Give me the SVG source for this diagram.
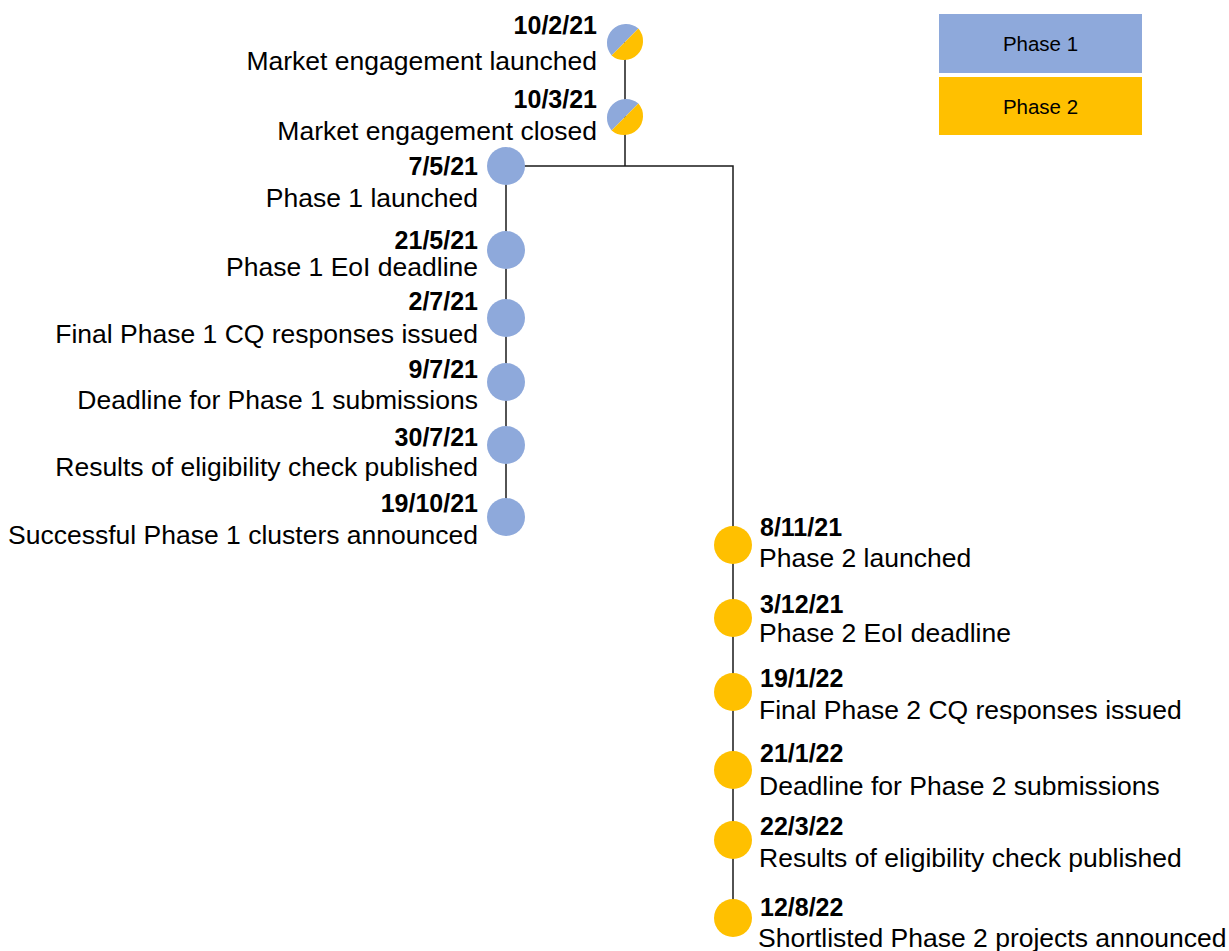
<svg xmlns="http://www.w3.org/2000/svg" width="1229" height="951" viewBox="0 0 1229 951">
<style>
.bg{fill:#ffffff}
.ln{stroke:#1a1a1a;stroke-width:1.5;fill:none}
.p1{fill:#8EA9DB}
.p2{fill:#FFC000}
.d{font-family:"Liberation Sans",Arial,sans-serif;font-weight:bold;font-size:25px;fill:#000}
.l{font-family:"Liberation Sans",Arial,sans-serif;font-size:26.5px;fill:#000}
.e{text-anchor:end}
.lg{font-family:"Liberation Sans",Arial,sans-serif;font-size:20.5px;fill:#000;text-anchor:middle}
</style>
<rect class="bg" x="0" y="0" width="1229" height="951"/>
<g id="connectors">
<line class="ln" x1="625" y1="42" x2="625" y2="166"/>
<polyline class="ln" points="506,166 733,166 733,918"/>
<line class="ln" x1="506" y1="166" x2="506" y2="517"/>
</g>
<g id="legend">
<g id="legend-phase1"><rect class="p1" x="939" y="14" width="203" height="59"/><text class="lg" x="1040.5" y="51">Phase 1</text></g>
<g id="legend-phase2"><rect class="p2" x="939" y="77" width="203" height="58"/><text class="lg" x="1040.5" y="114">Phase 2</text></g>
</g>
<g id="n-market-launched">
<path class="p1" d="M611.6,55.4 A19,19 0 0 1 638.4,28.6 Z"/>
<path class="p2" d="M638.4,28.6 A19,19 0 0 1 611.6,55.4 Z"/>
<text class="d e" x="597" y="34">10/2/21</text>
<text class="l e" x="597" y="70">Market engagement launched</text>
</g>
<g id="n-market-closed">
<path class="p1" d="M611.6,130.4 A19,19 0 0 1 638.4,103.6 Z"/>
<path class="p2" d="M638.4,103.6 A19,19 0 0 1 611.6,130.4 Z"/>
<text class="d e" x="597" y="108">10/3/21</text>
<text class="l e" x="597" y="140">Market engagement closed</text>
</g>
<g id="n-p1-launched"><circle class="p1" cx="506" cy="166" r="19"/><text class="d e" x="478" y="175">7/5/21</text><text class="l e" x="478" y="207">Phase 1 launched</text></g>
<g id="n-p1-eoi"><circle class="p1" cx="506" cy="250" r="19"/><text class="d e" x="478" y="249">21/5/21</text><text class="l e" x="478" y="276">Phase 1 EoI deadline</text></g>
<g id="n-p1-cq"><circle class="p1" cx="506" cy="318" r="19"/><text class="d e" x="478" y="310">2/7/21</text><text class="l e" x="478" y="343">Final Phase 1 CQ responses issued</text></g>
<g id="n-p1-deadline"><circle class="p1" cx="506" cy="382" r="19"/><text class="d e" x="478" y="378">9/7/21</text><text class="l e" x="478" y="409">Deadline for Phase 1 submissions</text></g>
<g id="n-p1-results"><circle class="p1" cx="506" cy="445" r="19"/><text class="d e" x="478" y="446">30/7/21</text><text class="l e" x="478" y="476">Results of eligibility check published</text></g>
<g id="n-p1-success"><circle class="p1" cx="506" cy="517" r="19"/><text class="d e" x="478" y="512">19/10/21</text><text class="l e" x="478" y="544">Successful Phase 1 clusters announced</text></g>
<g id="n-p2-launched"><circle class="p2" cx="733" cy="545" r="19"/><text class="d" x="760" y="536">8/11/21</text><text class="l" x="759" y="567">Phase 2 launched</text></g>
<g id="n-p2-eoi"><circle class="p2" cx="733" cy="618" r="19"/><text class="d" x="760" y="613">3/12/21</text><text class="l" x="759" y="642">Phase 2 EoI deadline</text></g>
<g id="n-p2-cq"><circle class="p2" cx="733" cy="692" r="19"/><text class="d" x="760" y="687">19/1/22</text><text class="l" x="759" y="719">Final Phase 2 CQ responses issued</text></g>
<g id="n-p2-deadline"><circle class="p2" cx="733" cy="770" r="19"/><text class="d" x="760" y="762">21/1/22</text><text class="l" x="759" y="795">Deadline for Phase 2 submissions</text></g>
<g id="n-p2-results"><circle class="p2" cx="733" cy="840" r="19"/><text class="d" x="760" y="835">22/3/22</text><text class="l" x="759" y="867">Results of eligibility check published</text></g>
<g id="n-p2-shortlist"><circle class="p2" cx="733" cy="918" r="19"/><text class="d" x="760" y="916">12/8/22</text><text class="l" x="758" y="947">Shortlisted Phase 2 projects announced</text></g>
</svg>
